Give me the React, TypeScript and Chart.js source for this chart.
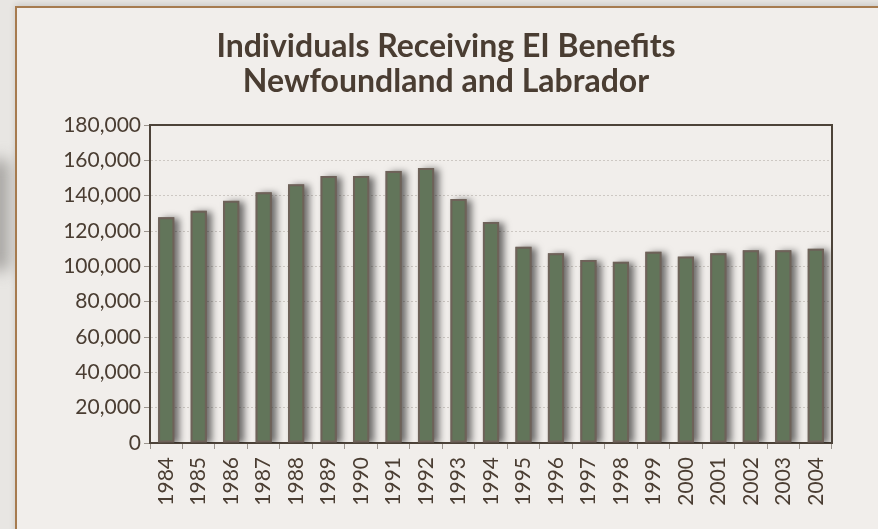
import React, { useEffect, useRef } from "react";
import { Chart, registerables } from "chart.js";

Chart.register(...registerables);

const years = ["1984","1985","1986","1987","1988","1989","1990","1991","1992","1993","1994","1995","1996","1997","1998","1999","2000","2001","2002","2003","2004"];
const individuals = [127800,131500,137100,141900,146400,151100,151100,154000,155600,138100,125100,111100,107400,103600,102600,108300,105500,107400,109100,109100,110000];
const titleLines = ["Individuals Receiving EI Benefits", "Newfoundland and Labrador"];
const yMin = 0;
const yMax = 180000;
const yStep = 20000;

const TEXT = "#4a3d32";
const AXIS = "#4d4339";

const barShadow = {
  id: "barShadow",
  beforeDatasetsDraw(chart: any) {
    const { ctx, chartArea } = chart;
    const meta = chart.getDatasetMeta(0);
    ctx.save();
    ctx.beginPath();
    ctx.rect(chartArea.left, chartArea.top, chartArea.right - chartArea.left, chartArea.bottom - chartArea.top);
    ctx.clip();
    ctx.shadowColor = "rgba(0,0,0,0.55)";
    ctx.shadowBlur = 7;
    ctx.shadowOffsetX = 5;
    ctx.shadowOffsetY = 1;
    ctx.fillStyle = "#6e6259";
    meta.data.forEach((bar: any) => {
      const p = bar.getProps(["x", "y", "base", "width"], true);
      ctx.fillRect(p.x - p.width / 2, p.y, p.width, p.base - p.y);
    });
    ctx.restore();
  },
};

const plotBox = {
  id: "plotBox",
  afterDraw(chart: any) {
    const { ctx, chartArea } = chart;
    ctx.save();
    ctx.strokeStyle = AXIS;
    ctx.lineWidth = 2;
    ctx.beginPath();
    ctx.moveTo(chartArea.left, chartArea.top);
    ctx.lineTo(chartArea.right, chartArea.top);
    ctx.lineTo(chartArea.right, chartArea.bottom);
    ctx.stroke();
    ctx.restore();
  },
};

const titleDraw = {
  id: "titleDraw",
  afterDraw(chart: any) {
    const { ctx } = chart;
    ctx.save();
    ctx.fillStyle = TEXT;
    ctx.font = "bold 32px Lato";
    ctx.textAlign = "center";
    ctx.textBaseline = "alphabetic";
    ctx.fillText(titleLines[0], 446, 57);
    ctx.fillText(titleLines[1], 446, 92);
    ctx.restore();
  },
};

export default function App() {
  const ref = useRef<HTMLCanvasElement | null>(null);
  useEffect(() => {
    if (!ref.current) return;
    const chart = new Chart(ref.current, {
      type: "bar",
      data: {
        labels: years,
        datasets: [
          {
            data: individuals,
            backgroundColor: "#62755a",
            borderColor: "#6e6259",
            borderWidth: 2,
            borderSkipped: false,
            categoryPercentage: 1,
            barPercentage: 0.5,
          },
        ],
      },
      options: {
        animation: false,
        responsive: false,
        maintainAspectRatio: false,
        layout: { padding: { left: 0, right: 46, top: 125, bottom: 0 } },
        plugins: {
          legend: { display: false },
          tooltip: { enabled: false },
          title: { display: false },
        },
        scales: {
          x: {
            afterFit(scale: any) {
              scale.height = 86;
            },
            grid: {
              drawOnChartArea: false,
              drawTicks: true,
              tickLength: 6,
              tickColor: "#9b948d",
              offset: true,
            },
            border: { display: true, color: AXIS, width: 2 },
            ticks: {
              color: TEXT,
              font: { family: "Lato", size: 21 },
              minRotation: 90,
              maxRotation: 90,
              autoSkip: false,
              padding: 8,
            },
          },
          y: {
            min: yMin,
            max: yMax,
            afterFit(scale: any) {
              scale.width = 150;
            },
            grid: {
              color: "#cdc8c3",
              lineWidth: 1,
              tickColor: "#9b948d",
              tickLength: 6,
            },
            border: { display: true, color: AXIS, width: 2, dash: [2, 2] },
            ticks: {
              stepSize: yStep,
              color: TEXT,
              font: { family: "Lato", size: 21 },
              padding: 3,
              callback: (v: any) => Number(v).toLocaleString("en-US"),
            },
          },
        },
      },
      plugins: [barShadow, plotBox, titleDraw],
    });
    return () => chart.destroy();
  }, []);

  return (
    <div style={{ position: "fixed", left: 0, top: 0, width: 878, height: 529, background: "#e8e6e3", overflow: "hidden" }}>
      <div style={{ position: "absolute", left: -30, top: 160, width: 40, height: 110, background: "#a9a7a4", filter: "blur(8px)" }} />
      <div
        style={{
          position: "absolute",
          left: 15,
          top: 6,
          width: 880,
          height: 560,
          boxSizing: "border-box",
          border: "2.5px solid #a67b4f",
          background: "#f1eeeb",
          boxShadow: "0 -2px 6px rgba(0,0,0,0.12)",
        }}
      />
      <canvas ref={ref} width={878} height={529} style={{ position: "absolute", left: 0, top: 0, width: 878, height: 529 }} />
    </div>
  );
}
